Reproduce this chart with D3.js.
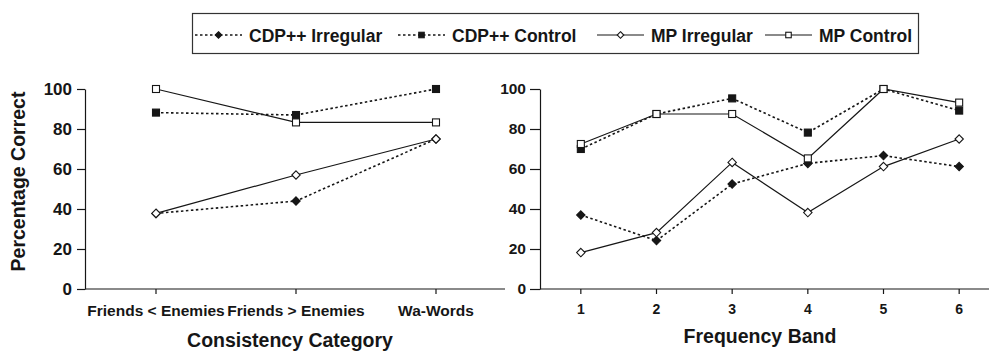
<!DOCTYPE html>
<html>
<head>
<meta charset="utf-8">
<script src="https://cdn.jsdelivr.net/npm/d3@7"></script>
<style>
  body { margin: 0; background: #fff; }
  svg { display: block; font-family: Arial, "Liberation Sans", sans-serif; font-weight: bold; }
  text { fill: #161616; }
</style>
</head>
<body>
<svg id="chart" width="989" height="353"></svg>
<script>
// ---- data ----
const seriesNames = ["CDP++ Irregular", "CDP++ Control", "MP Irregular", "MP Control"];
const leftCategories = ["Friends < Enemies", "Friends > Enemies", "Wa-Words"];
const rightCategories = ["1", "2", "3", "4", "5", "6"];
const yTicks = [0, 20, 40, 60, 80, 100];
const leftTitle = "Consistency Category";
const rightTitle = "Frequency Band";
const yTitle = "Percentage Correct";

const leftCdpIrregular = [37.8, 44, 75];
const leftCdpControl   = [88.2, 87, 100];
const leftMpIrregular  = [37.8, 57, 75];
const leftMpControl    = [100, 83.3, 83.3];

const rightCdpIrregular = [37, 24.2, 52.5, 62.8, 66.7, 61.2];
const rightCdpControl   = [70, 87.5, 95.3, 78.2, 100, 89.2];
const rightMpIrregular  = [18.2, 28.2, 63.3, 38.2, 61.2, 75];
const rightMpControl    = [72.5, 87.5, 87.5, 65.3, 100, 93.2];

// ---- styles ----
const ink = "#161616";
const styles = {
  "CDP++ Irregular": { dash: "2.5,2.5", marker: "diamond", fill: ink },
  "CDP++ Control":   { dash: "2.5,2.5", marker: "square",  fill: ink },
  "MP Irregular":    { dash: null,  marker: "diamond", fill: "#fff" },
  "MP Control":      { dash: null,  marker: "square",  fill: "#fff" }
};

const svg = d3.select("#chart");
const y = d3.scaleLinear().domain([0, 100]).range([289, 89]);

function drawMarker(g, kind, cx, cy, fill, size) {
  if (kind === "diamond") {
    const s = size * 0.6;
    g.append("path")
      .attr("d", `M${cx},${cy - s}L${cx + s},${cy}L${cx},${cy + s}L${cx - s},${cy}Z`)
      .attr("fill", fill).attr("stroke", ink).attr("stroke-width", 1.1);
  } else {
    const s = size * 0.5;
    g.append("rect")
      .attr("x", cx - s).attr("y", cy - s).attr("width", 2 * s).attr("height", 2 * s)
      .attr("fill", fill).attr("stroke", ink).attr("stroke-width", 1.1);
  }
}

function panel(opts) {
  const g = svg.append("g");
  const x = d3.scaleBand().domain(opts.categories).range(opts.xRange);
  const cx = c => x(c) + x.bandwidth() / 2;

  // y axis
  const ya = g.append("g").attr("transform", `translate(${opts.axisX},0)`)
    .call(d3.axisLeft(y).tickValues(yTicks).tickSize(opts.yTickSize).tickPadding(opts.yTickPad).tickSizeOuter(0));
  ya.select(".domain").attr("stroke", ink).attr("stroke-width", 1.2);
  ya.selectAll(".tick line").attr("stroke", ink).attr("stroke-width", 1.2);
  ya.selectAll(".tick text").style("font-size", opts.yFont + "px").style("font-family", "Arial, 'Liberation Sans', sans-serif").style("font-weight", "bold").attr("fill", ink);

  // x axis
  const xa = g.append("g").attr("transform", `translate(0,${y(0)})`)
    .call(d3.axisBottom(x).tickSize(5).tickPadding(opts.xTickPad).tickSizeOuter(0));
  xa.select(".domain").remove();
  xa.append("line").attr("x1", opts.axisX).attr("x2", opts.xEnd).attr("y1", 0).attr("y2", 0)
    .attr("stroke", ink).attr("stroke-width", 1.2);
  xa.selectAll(".tick line").attr("stroke", ink).attr("stroke-width", 1.2);
  xa.selectAll(".tick text").style("font-size", opts.xFont + "px").style("font-family", "Arial, 'Liberation Sans', sans-serif").style("font-weight", "bold").attr("fill", ink);

  // series
  const line = d3.line().x((d, i) => cx(opts.categories[i])).y(d => y(d));
  opts.series.forEach(s => {
    const st = styles[s.name];
    g.append("path").datum(s.values).attr("d", line)
      .attr("fill", "none").attr("stroke", ink)
      .attr("stroke-width", st.dash ? 1.6 : 1.2)
      .attr("stroke-dasharray", st.dash);
  });
  opts.series.forEach(s => {
    const st = styles[s.name];
    s.values.forEach((v, i) => drawMarker(g, st.marker, cx(opts.categories[i]), y(v), st.fill, 7));
  });

  // x title
  g.append("text").attr("x", opts.titleX).attr("y", opts.titleY).attr("text-anchor", "middle")
    .style("font-size", "19.5px").text(opts.title);
}

panel({
  categories: leftCategories, xRange: [86, 506], axisX: 85, xEnd: 505,
  yTickSize: 8, yTickPad: 5, yFont: 17, xFont: 15.5, xTickPad: 11,
  title: leftTitle, titleX: 290, titleY: 347,
  series: [
    { name: "CDP++ Irregular", values: leftCdpIrregular },
    { name: "CDP++ Control", values: leftCdpControl },
    { name: "MP Irregular", values: leftMpIrregular },
    { name: "MP Control", values: leftMpControl }
  ]
});

panel({
  categories: rightCategories, xRange: [543, 997], axisX: 540, xEnd: 997,
  yTickSize: 10, yTickPad: 4, yFont: 15.5, xFont: 14, xTickPad: 10,
  title: rightTitle, titleX: 760, titleY: 343,
  series: [
    { name: "CDP++ Irregular", values: rightCdpIrregular },
    { name: "CDP++ Control", values: rightCdpControl },
    { name: "MP Irregular", values: rightMpIrregular },
    { name: "MP Control", values: rightMpControl }
  ]
});

// y title
svg.append("text").attr("transform", "translate(25,181.5) rotate(-90)")
  .attr("text-anchor", "middle").style("font-size", "19.5px").text(yTitle);

// legend
const lg = svg.append("g");
lg.append("rect").attr("x", 192.5).attr("y", 13.5).attr("width", 726).attr("height", 40)
  .attr("fill", "#fff").attr("stroke", "#333").attr("stroke-width", 1.2);
const legendStarts = { "CDP++ Irregular": 195, "CDP++ Control": 398, "MP Irregular": 597, "MP Control": 765 };
seriesNames.forEach(name => {
  const st = styles[name];
  const x0 = legendStarts[name];
  lg.append("line").attr("x1", x0).attr("x2", x0 + 47).attr("y1", 35).attr("y2", 35)
    .attr("stroke", ink).attr("stroke-width", st.dash ? 1.6 : 1.2).attr("stroke-dasharray", st.dash);
  drawMarker(lg, st.marker, x0 + 23.5, 35, st.fill, 5.5);
  lg.append("text").attr("x", x0 + 54).attr("y", 42).style("font-size", "17.5px").text(name);
});
</script>
</body>
</html>
